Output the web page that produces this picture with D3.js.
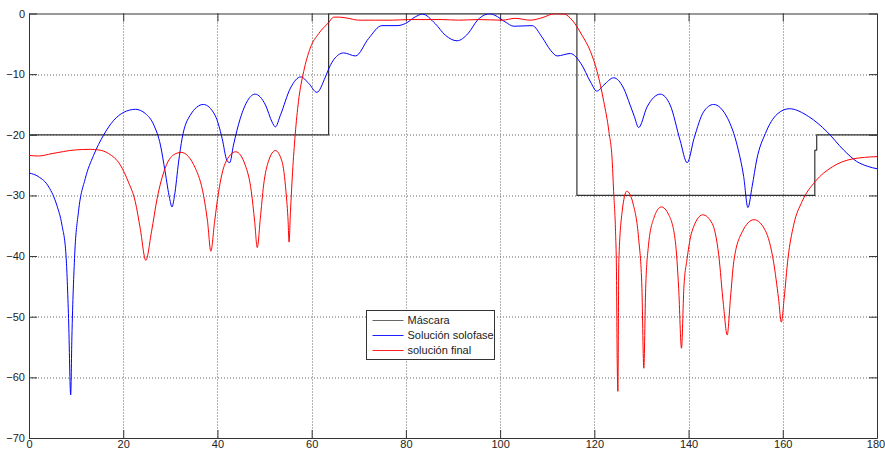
<!DOCTYPE html>
<html>
<head>
<meta charset="utf-8">
<script src="https://cdn.jsdelivr.net/npm/d3@7"></script>
<style>
  body { margin: 0; background: #fff; }
  svg { display: block; font-family: "Liberation Sans", Arial, sans-serif; }
</style>
</head>
<body>
<svg id="chart" width="885" height="452"></svg>
<script>
// mascara (escalones)
var maskX = [0, 63.6, 63.6, 116.3, 116.3, 166.8, 166.8, 167.2, 167.2, 180];
var maskY = [-20, -20, 0, 0, -30, -30, -22.6, -22.5, -20, -20];

// solucion solofase (azul)
var soloX = [0, 2.0, 4.2, 5.9, 7.0, 7.85, 8.4, 8.85, 9.1, 9.7, 10.5, 11.95, 13.7, 15.8, 18.0, 20.1, 22.6, 24.7, 26.5, 27.9,
  28.9, 29.85, 30.35, 30.9, 31.75, 32.5, 34.2, 37.0, 39.5, 41.0, 42.0, 42.6, 43.4, 44.85, 48.0, 50.2, 51.6, 52.3, 53.35, 55.5,
  57.7, 59.35, 61.1, 62.9, 63.8, 65.7, 66.8, 69.3, 72.1, 74.9, 78.1, 79.9, 82.0, 83.5, 86.2, 88.4, 90.85, 93.2, 95.2, 96.8,
  97.8, 98.9, 101.1, 102.9, 106.8, 108.9, 110.7, 112.1, 114.9, 117.2, 119.2, 120.5, 122.0, 124.1, 126.2, 127.6, 128.5, 129.4, 131.2, 134.0,
  136.1, 138.2, 139.7, 141.2, 143.2, 145.3, 148.3, 150.4, 151.7, 152.6, 153.5, 154.5, 156.3, 158.8, 161.4, 165.5, 169.4, 172.9, 175.7, 178.0, 180];
var soloY = [-26.3, -26.9, -28.6, -31.6, -34.9, -39.8, -50.3, -62.9, -53.5, -39.8, -32.7, -27.2, -23.4, -20.1, -17.6, -16.3, -15.8, -16.5, -18.4, -21.7,
  -26.1, -30.5, -31.9, -30.0, -24.5, -20.6, -16.8, -15.0, -16.8, -20.6, -24.2, -24.6, -21.7, -17.3, -13.3, -15.1, -17.9, -18.7, -16.8, -12.3,
  -10.45, -11.5, -13.0, -10.5, -8.8, -6.8, -6.5, -7.0, -4.1, -2.0, -2.0, -1.65, -0.55, -0.1, -1.65, -3.6, -4.5, -3.3, -1.1, -0.2,
  -0.05, -0.3, -1.4, -2.1, -2.0, -3.9, -6.05, -7.0, -6.6, -8.3, -11.3, -12.8, -11.8, -10.6, -12.3, -15.1, -17.0, -18.8, -15.4, -13.3,
  -15.1, -20.9, -24.6, -20.5, -16.2, -15.0, -17.3, -22.0, -26.9, -32.0, -28.5, -24.0, -19.8, -16.6, -15.7, -17.0, -19.5, -22.5, -24.4, -25.2, -25.6];

// solucion final (rojo)
var finalX = [0, 2.0, 4.9, 9.8, 13.0, 14.8, 16.9, 19.4, 21.1, 22.55, 23.6, 24.8, 26.0, 27.2, 28.9, 30.7, 32.3, 35.3, 37.05, 37.9,
  38.6, 39.4, 40.25, 41.65, 43.9, 45.9, 47.2, 47.9, 48.45, 49.1, 49.8, 50.9, 52.3, 53.7, 54.55, 55.0, 55.2, 55.5, 55.95, 56.5,
  57.2, 58.3, 59.7, 61.5, 63.6, 64.7, 65.9, 67.8, 70.0, 73.5, 77.1, 80.6, 84.1, 87.7, 91.2, 95.4, 100.4, 103.2, 106.4, 108.9,
  111.5, 113.6, 115.3, 117.4, 119.2, 120.6, 122.0, 123.1, 123.8, 124.1, 124.5, 124.7, 124.85, 125.0, 125.2, 125.9, 126.9, 128.3, 129.4, 130.1,
  130.5, 130.9, 131.5, 132.6, 134.2, 135.8, 137.2, 137.9, 138.5, 139.0, 139.7, 140.7, 143.0, 145.0, 146.4, 147.4, 148.2, 148.9, 149.6, 151.4,
  153.9, 156.3, 158.05, 159.1, 159.7, 160.3, 161.1, 162.3, 164.1, 166.9, 170.5, 174.7, 180];
var finalY = [-23.4, -23.5, -23.1, -22.5, -22.4, -22.5, -23.1, -25.0, -27.8, -31.0, -35.4, -40.7, -36.0, -30.5, -25.5, -23.3, -22.9, -25.5, -30.0, -34.3,
  -39.2, -34.3, -29.4, -24.7, -22.8, -25.0, -29.4, -34.3, -38.6, -33.8, -28.3, -24.2, -22.6, -24.4, -29.4, -34.3, -37.7, -32.7, -26.1, -20.0,
  -14.5, -9.6, -5.7, -3.3, -1.5, -0.6, -0.6, -0.8, -1.1, -1.1, -1.1, -1.0, -1.0, -1.0, -1.1, -1.0, -1.1, -0.8, -1.1, -0.7,
  -0.05, -0.1, -1.1, -3.6, -6.3, -9.6, -14.5, -19.5, -24.4, -29.4, -36.0, -42.6, -56.9, -62.3, -40.9, -32.7, -29.3, -31.6, -37.1, -45.3,
  -58.5, -45.3, -38.2, -33.8, -31.9, -33.2, -37.6, -45.3, -55.2, -45.3, -40.4, -36.0, -33.2, -34.6, -39.8, -48.0, -53.0, -46.9, -40.9, -36.0,
  -34.0, -35.8, -41.0, -47.0, -50.9, -46.9, -40.4, -34.9, -31.0, -27.7, -25.3, -24.0, -23.6];

var xTicks = [0, 20, 40, 60, 80, 100, 120, 140, 160, 180];
var yTicks = [0, -10, -20, -30, -40, -50, -60, -70];
var legendNames = ["Máscara", "Solución solofase", "solución final"];

var margin = {top: 13.5, right: 8, bottom: 14, left: 29};
var width = 885 - margin.left - margin.right;
var height = 452 - margin.top - margin.bottom;

var x = d3.scaleLinear().domain([0, 180]).range([0, width]);
var y = d3.scaleLinear().domain([-70, 0]).range([height, 0]);

var svg = d3.select("#chart");
var g = svg.append("g")
  .attr("transform", `translate(${margin.left},${margin.top})`);

// rejilla punteada
g.append("g").selectAll("line")
  .data(xTicks.slice(1, -1))
  .join("line")
  .attr("x1", d => Math.round(x(d)) + 0.5).attr("x2", d => Math.round(x(d)) + 0.5)
  .attr("y1", 0).attr("y2", height)
  .attr("stroke", "#666").attr("stroke-dasharray", "1,2");
g.append("g").selectAll("line")
  .data(yTicks.slice(1, -1))
  .join("line")
  .attr("y1", d => Math.round(y(d)) + 0.5).attr("y2", d => Math.round(y(d)) + 0.5)
  .attr("x1", 0).attr("x2", width)
  .attr("stroke", "#666").attr("stroke-dasharray", "1,2");

// ejes tipo matlab (ticks hacia dentro, en los 4 lados)
var axisColor = "#333";
var xb = g.append("g").attr("transform", `translate(0,${height})`)
  .call(d3.axisBottom(x).tickValues(xTicks).tickSizeInner(-8).tickSizeOuter(0).tickPadding(2));
var xt = g.append("g")
  .call(d3.axisTop(x).tickValues(xTicks).tickSizeInner(-8).tickSizeOuter(0).tickFormat(""));
var yl = g.append("g")
  .call(d3.axisLeft(y).tickValues(yTicks).tickSizeInner(-8).tickSizeOuter(0).tickPadding(4));
var yr = g.append("g").attr("transform", `translate(${width},0)`)
  .call(d3.axisRight(y).tickValues(yTicks).tickSizeInner(-8).tickSizeOuter(0).tickFormat(""));
[xb, xt, yl, yr].forEach(function(a){
  a.selectAll("path, line").attr("stroke", axisColor);
  a.selectAll("text").attr("fill", "#222").style("font-size", "11px");
});
xb.selectAll("text").attr("dy", "0.7em");
// el ultimo rotulo pegado al borde
xb.selectAll("text").filter(d => d === 180).attr("dx", "-1.5");

var clip = g.append("clipPath").attr("id", "clip")
  .append("rect").attr("width", width).attr("height", height);

function lineOf(xs, ys, curve){
  var pts = xs.map((v, i) => [v, ys[i]]);
  return d3.line()
    .x(d => x(d[0]))
    .y(d => y(d[1]))
    .curve(curve)(pts);
}

var plot = g.append("g").attr("clip-path", "url(#clip)");

plot.append("path")
  .attr("d", lineOf(maskX, maskY, d3.curveLinear))
  .attr("fill", "none").attr("stroke", "#333").attr("stroke-width", 1.2);

plot.append("path")
  .attr("d", lineOf(soloX, soloY, d3.curveMonotoneX))
  .attr("fill", "none").attr("stroke", "#0000ff").attr("stroke-width", 1);

plot.append("path")
  .attr("d", lineOf(finalX, finalY, d3.curveMonotoneX))
  .attr("fill", "none").attr("stroke", "#ff0000").attr("stroke-width", 1);

// leyenda
var legendColors = ["#666", "#2020ff", "#ff2020"];
var lg = svg.append("g").attr("transform", "translate(366.5,310.5)");
lg.append("rect")
  .attr("width", 128).attr("height", 49)
  .attr("fill", "#fff").attr("stroke", "#333");
var item = lg.selectAll("g.item")
  .data(legendNames)
  .join("g")
  .attr("class", "item")
  .attr("transform", (d, i) => `translate(0,${10 + i * 15})`);
item.append("line")
  .attr("x1", 6).attr("x2", 37)
  .style("stroke", d => legendColors[legendNames.indexOf(d)]);
item.append("text")
  .attr("x", 41).attr("dy", "0.35em")
  .style("font-size", "11px").attr("fill", "#222")
  .text(d => d);
</script>
</body>
</html>
